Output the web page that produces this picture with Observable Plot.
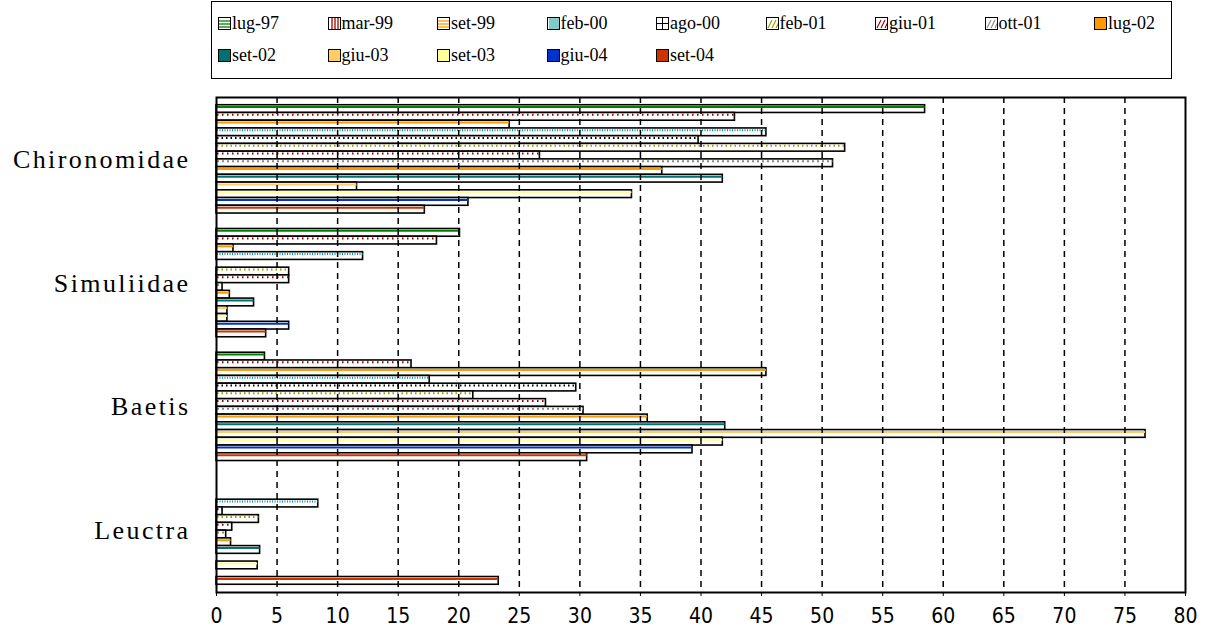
<!DOCTYPE html>
<html><head><meta charset="utf-8">
<script src="https://cdn.jsdelivr.net/npm/d3@7"></script>
<script src="https://cdn.jsdelivr.net/npm/@observablehq/plot@0.6"></script>
<style>
body{margin:0;background:#fff;width:1214px;height:636px;overflow:hidden;position:relative;}
#legend{position:absolute;left:211px;top:1px;width:961px;height:78px;border:1.5px solid #000;box-sizing:border-box;color:#000;}
.item{position:absolute;display:flex;align-items:center;height:20px;white-space:nowrap;}
.item svg{margin-right:1px;flex:none}
#chart{position:absolute;left:0;top:81px;}
#chart svg g[aria-label="text"] text{letter-spacing:2.4px;}
</style></head><body>
<div id="legend"></div><div id="chart"></div>
<script>
const categories = ["Chironomidae", "Simuliidae", "Baetis", "Leuctra"];
const series = ["lug-97","mar-99","set-99","feb-00","ago-00","feb-01","giu-01","ott-01","lug-02","set-02","giu-03","set-03","giu-04","set-04"];
const chironomidae = [58.5, 42.8, 24.2, 45.4, 39.8, 51.9, 26.7, 50.9, 36.8, 41.8, 11.6, 34.3, 20.8, 17.2];
const simuliidae   = [20.1, 18.2, 1.4, 12.1, 0, 6.0, 6.0, 0.5, 1.1, 3.1, 0.9, 0.9, 6.0, 4.1];
const baetis       = [4.0, 16.1, 45.4, 17.6, 29.7, 21.2, 27.2, 30.3, 35.6, 42.0, 76.7, 41.8, 39.3, 30.6];
const leuctra      = [0, 0, 0, 8.4, 0.5, 3.5, 1.3, 0.8, 1.2, 3.6, 0, 3.4, 0, 23.3];
const xTicks = [0,5,10,15,20,25,30,35,40,45,50,55,60,65,70,75,80];

// series styling (stripe colour, dash, legend pattern)
const seriesColors = ["#008000","#a00000","#ff9900","#009999","#000000","#999900","#990000","#888888","#ff9900","#007070","#ffcc66","#ffff99","#0033cc","#cc3300"];
const seriesDash   = [null,"1.5,3.5",null,"1,1.5","1.5,3","1.5,3","1.5,3.5","2,3",null,null,null,null,null,null];
const legendPattern = ["h","v","h","vd","grid","diag","diag","diag","fill","fill","fill","fill","fill","fill"];

const values = [chironomidae, simuliidae, baetis, leuctra];
const rows = [];
categories.forEach((c, ci) => series.forEach((s, si) =>
  rows.push({category: c, series: s, si, key: c + "|" + s, value: values[ci][si]})));
const yDomain = categories.flatMap(c => [c + "|<", ...series.map(s => c + "|" + s), c + "|>"]);

// Legend
const legend = document.getElementById("legend");
series.forEach((s, i) => {
  const r = Math.floor(i / 9), col = i % 9;
  const div = document.createElement("div");
  div.className = "item";
  div.style.left = (6 + col * 109.5) + "px";
  div.style.top = (r === 0 ? 11 : 43) + "px";
  const c = seriesColors[i], p = legendPattern[i];
  let inner = "";
  if (p === "fill") inner = `<rect x="1" y="1" width="11" height="11" fill="${c}"/>`;
  else if (p === "h") inner = [4,7,10].map(y => `<line x1="1" x2="12" y1="${y}" y2="${y}" stroke="${c}" stroke-width="1.3"/>`).join("");
  else if (p === "v") inner = [4,7,10].map(x => `<line y1="1" y2="12" x1="${x}" x2="${x}" stroke="${c}" stroke-width="1.3"/>`).join("");
  else if (p === "vd") inner = [3,5,7,9,11].map(x => `<line y1="1" y2="12" x1="${x}" x2="${x}" stroke="${c}" stroke-width="1"/>`).join("");
  else if (p === "grid") inner = `<line x1="1" x2="12" y1="6.5" y2="6.5" stroke="#000"/><line y1="1" y2="12" x1="6.5" x2="6.5" stroke="#000"/>`;
  else if (p === "diag") inner = [0,4,8].map(o => `<line x1="${2+o}" y1="11" x2="${6+o}" y2="3" stroke="${c}" stroke-width="1.1"/>`).join("");
  div.innerHTML = `<svg width="13" height="13"><rect x="0.5" y="0.5" width="12" height="12" fill="#fff" stroke="#000"/>${inner}<rect x="0.5" y="0.5" width="12" height="12" fill="none" stroke="#000"/></svg><span style="font-family:'Liberation Serif','Times New Roman','DejaVu Serif',serif;font-size:18px">${s}</span>`;
  legend.appendChild(div);
});

const stripeMarks = series.map((s, si) =>
  Plot.ruleY(rows.filter(d => d.si === si && d.value > 0), {
    y: "key", x1: 0, x2: "value", dy: -2, insetLeft: 1,
    stroke: seriesColors[si], strokeWidth: 2, strokeDasharray: seriesDash[si] || undefined
  }));

const chart = Plot.plot({
  width: 1214, height: 555,
  marginLeft: 216, marginRight: 29, marginTop: 16, marginBottom: 44,
  x: {domain: [0, 80], ticks: xTicks, tickSize: 4, tickPadding: 12, label: null},
  y: {type: "band", domain: yDomain, padding: 0, axis: null},
  style: {fontFamily: "'Liberation Sans Narrow','DejaVu Sans Condensed',sans-serif", fontSize: "21px", color: "#000", background: "#fff"},
  marks: [
    Plot.barX(rows, {x: "value", y: "key", fill: "white", stroke: "black", strokeWidth: 1.6}),
    ...stripeMarks,
    Plot.ruleX(xTicks.slice(1, -1), {stroke: "black", strokeWidth: 1.5, strokeDasharray: "6,5"}),
    Plot.text(categories, {x: 0, y: c => c + "|giu-01", dy: 4, dx: -26, text: d => d, textAnchor: "end",
      fontSize: 26, fontFamily: "'Liberation Serif','Times New Roman',serif", fill: "black"}),
    Plot.frame({stroke: "black", strokeWidth: 2})
  ]
});
document.getElementById("chart").appendChild(chart);
</script></body></html>
